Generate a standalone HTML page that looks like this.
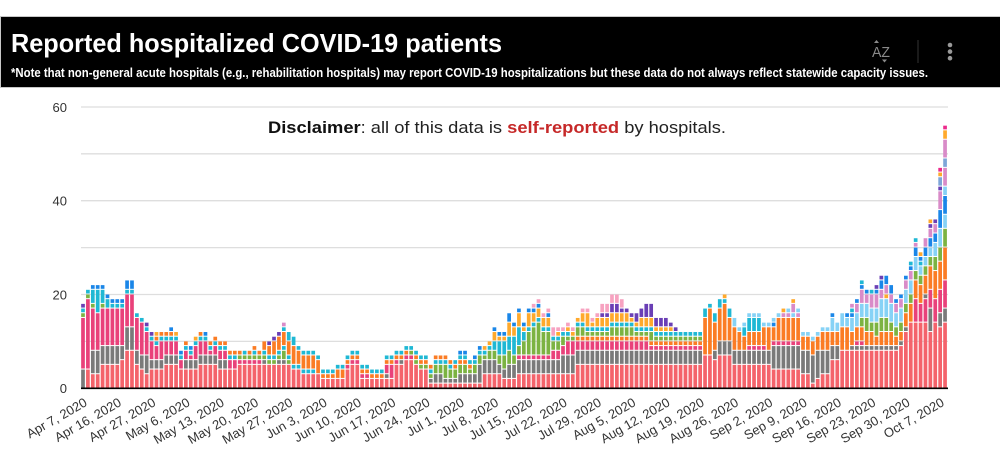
<!DOCTYPE html>
<html><head><meta charset="utf-8"><style>
html,body{margin:0;padding:0;background:#fff;width:1000px;height:450px;overflow:hidden}
svg{display:block}
</style></head><body>
<svg id="s" width="1000" height="450" viewBox="0 0 1000 450" xmlns="http://www.w3.org/2000/svg" font-family="'Liberation Sans', Arial, sans-serif">
<rect x="0.5" y="16.5" width="1000" height="71" fill="#000" stroke="#c8c8c8" stroke-width="1"/>
<text x="11" y="52" fill="#fff" font-size="26" font-weight="bold" textLength="491" lengthAdjust="spacingAndGlyphs">Reported hospitalized COVID-19 patients</text>
<text x="11" y="77" fill="#fff" font-size="12.5" font-weight="bold" textLength="917" lengthAdjust="spacingAndGlyphs">*Note that non-general acute hospitals (e.g., rehabilitation hospitals) may report COVID-19 hospitalizations but these data do not always reflect statewide capacity issues.</text>
<text x="872" y="57" fill="#8a8a8a" font-size="15" textLength="18" lengthAdjust="spacingAndGlyphs">AZ</text>
<path d="M874 43 L876.5 40 L879 43 Z" fill="#8a8a8a"/>
<path d="M882 59.5 L884.5 62.5 L887 59.5 Z" fill="#8a8a8a"/>
<line x1="918" y1="40" x2="918" y2="63" stroke="#333" stroke-width="1"/>
<circle cx="950" cy="45" r="2.3" fill="#999"/>
<circle cx="950" cy="51.6" r="2.3" fill="#999"/>
<circle cx="950" cy="58.2" r="2.3" fill="#999"/>

<g stroke="#dedede" stroke-width="1.3">
<line x1="81" y1="107" x2="948" y2="107"/>
<line x1="81" y1="153.8" x2="948" y2="153.8"/>
<line x1="81" y1="200.7" x2="948" y2="200.7"/>
<line x1="81" y1="247.6" x2="948" y2="247.6"/>
<line x1="81" y1="294.5" x2="948" y2="294.5"/>
<line x1="81" y1="341.4" x2="948" y2="341.4"/>
</g>
<g fill="#333" font-size="13" text-anchor="end">
<text x="67" y="112">60</text>
<text x="67" y="205.5">40</text>
<text x="67" y="299.5">20</text>
<text x="67" y="393">0</text>
</g>

<text x="268" y="133" font-size="17" fill="#222" textLength="458" lengthAdjust="spacingAndGlyphs"><tspan font-weight="bold" fill="#111">Disclaimer</tspan>: all of this data is <tspan font-weight="bold" fill="#c62828">self-reported</tspan> by hospitals.</text>

<g id="bars"></g>
<line x1="81" y1="388.3" x2="948" y2="388.3" stroke="#000" stroke-width="1.6"/>

<g fill="#333" font-size="13" text-anchor="end">
<text transform="translate(88,405) rotate(-30)">Apr 7, 2020</text>
<text transform="translate(122.3,405) rotate(-30)">Apr 16, 2020</text>
<text transform="translate(156.6,405) rotate(-30)">Apr 27, 2020</text>
<text transform="translate(190.9,405) rotate(-30)">May 6, 2020</text>
<text transform="translate(225.1,405) rotate(-30)">May 13, 2020</text>
<text transform="translate(259.4,405) rotate(-30)">May 20, 2020</text>
<text transform="translate(293.7,405) rotate(-30)">May 27, 2020</text>
<text transform="translate(328,405) rotate(-30)">Jun 3, 2020</text>
<text transform="translate(362.3,405) rotate(-30)">Jun 10, 2020</text>
<text transform="translate(396.6,405) rotate(-30)">Jun 17, 2020</text>
<text transform="translate(430.9,405) rotate(-30)">Jun 24, 2020</text>
<text transform="translate(465.1,405) rotate(-30)">Jul 1, 2020</text>
<text transform="translate(499.4,405) rotate(-30)">Jul 8, 2020</text>
<text transform="translate(533.7,405) rotate(-30)">Jul 15, 2020</text>
<text transform="translate(568,405) rotate(-30)">Jul 22, 2020</text>
<text transform="translate(602.3,405) rotate(-30)">Jul 29, 2020</text>
<text transform="translate(636.6,405) rotate(-30)">Aug 5, 2020</text>
<text transform="translate(670.9,405) rotate(-30)">Aug 12, 2020</text>
<text transform="translate(705.1,405) rotate(-30)">Aug 19, 2020</text>
<text transform="translate(739.4,405) rotate(-30)">Aug 26, 2020</text>
<text transform="translate(773.7,405) rotate(-30)">Sep 2, 2020</text>
<text transform="translate(808,405) rotate(-30)">Sep 9, 2020</text>
<text transform="translate(842.3,405) rotate(-30)">Sep 16, 2020</text>
<text transform="translate(876.6,405) rotate(-30)">Sep 23, 2020</text>
<text transform="translate(910.9,405) rotate(-30)">Sep 30, 2020</text>
<text transform="translate(945.1,405) rotate(-30)">Oct 7, 2020</text>
</g>
</svg>
<script>
(function(){
var U=4.69,Y0=388.3,P=4.898,C0=83,W=3.7;
var col={r:'#f4636b',g:'#7a7a7a',p:'#e9417a',o:'#fb7c24',n:'#7cb342',t:'#1fb8d4',a:'#ffa92c',l:'#86d2f6',b:'#1a86e8',m:'#d98bc8',u:'#6a3fb5',k:'#f7a2c0',h:'#ec2a8c',s:'#7ea6d8'};
var D=[
"g4p11n1t1u1","r4p15n1t1","r3g5p9n1t3b1","r3g5p8t5b1","r5g4p8n1t3b1","r5g4p8t2b1","r5g4p8t1b1","r5g4p8t1b1","r6g3p8t1b1","r8g5p7t1b2",
"r8g5p7t1b2","r5g3p7t1","r4g3p7t1","r3g4p5t1u1","r4g2p4t1u1","r4g2p3t1o1a1","r4g2p4t1o1","r5g2p3t1o1","r5g2p3t1o1b1","r5g2p3t1a1",
"r4p2t1b1","r4g2p2t1o1","r4g2p1t1b1","r4g2p3t1a1","r5g2p3t1o1","r5g2p3t1b1","r5g2p1t1o1","r5g2p2t1o1","r4g2p2t1o1","r4g2p2t1o1",
"r4p2t1o1","r4p2t1o1","r5p1n1o1","r5p1n1t1","r5p1n1o1","r5p1n1t1o1","r5p1n1o1","r5g1n1t1o2","r5n1t1o2u1","r5n1t1o3u1",
"r5g1n1t1o3u1","r5g1n2t1o3t1m1","r5n1t1o3t2","r4t1o4t2","r4t1o3t1","r3t1o3t1","r3t1o3t1","r3t1o3t1","r3o3t1","r2o1t1",
"r2o1t1","r2o1t1","r2o2t1","r2o2t1","r4p1o1t1","r5p1o1t1","r5p1o1t1","r2p1o1t1","r2p1o1t1","r2o1t1",
"r2o1t1","r2o1t1","r2g1p2o1t1","r2p3o1t1","r5p1o1t1","r5g1o1t1","r6p1o1t1","r6p1n1t1","r5n1o1t1","r4n1o1t1",
"r4n1o1t1","r1g1n1t1o1","r1g2n2t1o1","r1g2n2t1o1","r1g1n3t1o1","r1g1n2t1o1","r1g1n2o1t1","r1g2n2o1t1b1","r1g2n2o1t1b1","r1g2n1o1t1",
"r1g2n2t1b1","r1g4n2t1b1","r3g3n1t1a1","r3g3n2t1a1","r3g3n2t2a2b1","r3g2n2t3a1b1","r2g2n3t3a1b1","r2g3n3t3a3b2","r2g3n2t4a2b1","r3g3p1n2t4a3b1",
"r3g3p1n3t2a1b1","r3g3p1n5t1a3b1","r3g3p1n6t1a2b1k1","r3g3p1n7t1a2b1k1","r3g3p1n5t1a2k1","r3g3p1n5t1a2b1k1","r3g3p2n2t1k2","r3g3p2n2t1a1k1","r3g4p2n2t1k1","r3g4p3n1t1a1k1",
"r3g4p3n1a1k1","r5g3p2o1n2t1a1","r5g3p2o1n2t1a2k1","r5g3p2o1n1t1a3k1","r5g3p2o1n1t1a1k1","r5g3p2o1n1t1a2k1","r5g3p2o1n1t1a2u1k2","r5g3p2o1n1t1a2u1k2","r5g3p2o1n2t1a2u2k2","r5g3p2o1n2t1a2u2k2",
"r5g3p2o1n2t1a2u1k2","r5g3p2o1n2t1a2u1","r5g3p2o1n2t1a1u1","r5g3p2o1n1t1a1u2","r5g3p2o1n1t1a2u2","r5g3p2o1n1t1a2u3","r5g3p1o1n2t1a2u3","r5g3p1o1n1t1a1u2","r5g3p1o1n1t1a1u2","r5g3p1o1n1t1a1u2",
"r5g3p1o1n1t1a1u1","r5g3p1o1n1t1u1","r5g3p1o1n1t1","r5g3p1o1n1t1","r5g3p1o1n1t1","r5g3p1o1n1t1","r5g3p1o1n1t1","r7o8t2","r7o10t1","r6g2o6t2",
"r7g3o7t2","r7g3o8t1a1","r7g3o5t2","r5g3o5l2","r5g3o4l1","r5g3o3t2l1","r5g3p1o3t3l1","r5g3p1o3t3l1","r5g3p1o3t3l1","r5g3p1o4l1",
"r5g3o5l1","r4g5p1o3b1l1","r4g5p1o5l1","r4g5p1o5m1a1","r4g5p1o5m1l1","r4g5p1o5l1m2a1","r4g5p1o5m1l1","r3g5o3l1","r3g5o3l1","r1g6o3l1",
"r2g6o3l1","r3g5o4l1","r3g5o4l1","r6g3o3l3b1","r6g3o3l2","r8o5l3","r8o5l2b1","r8g1o3l3b1t1m1","r8g1p1o3l3m2b1","r8g1p1o3n2l3m3b1t1",
"r8g1o3n3l3m2b1","r8g1o3n2l3m3t1","r8g1o2n3l3m3b1u1","r8g1o3n3l4m2b2u1","r8g1o3n3l4a1m2b2","r8g1o3n2l4m2b2","r8g1o2n2l3m2b1","r9g1o2n2l3m2b1","r12g1o3n2l3m2b1","r14o4n2l3m2b1t1",
"r14p5o4n2l3b2m1t1","r14p4o4n2l2t1b1a1","r14p5g1o4n2l2b2m2","r12g5p4o5n2l2b2m2u1a1","r14p5o6n3l3b2m2u1","r13g3p5o6n3l4b4m4u1s2a1h1","r14g3p6o7n4l3b4l2m4s2m4a2h1"
];
var g=document.getElementById('bars'),NS='http://www.w3.org/2000/svg',html='';
for(var i=0;i<D.length;i++){
  var x=C0+P*i-W/2,cum=0,re=/([a-z])(\d+)/g,m;
  while((m=re.exec(D[i]))!==null){
    var n=+m[2];
    var top=Y0-(cum+n)*U;
    var h=n*U-(cum>0?1:0);
    html+='<rect x="'+x.toFixed(2)+'" y="'+top.toFixed(2)+'" width="'+W+'" height="'+h.toFixed(2)+'" fill="'+col[m[1]]+'"/>';
    cum+=n;
  }
}
g.innerHTML=html;
})();
</script>
</body></html>
